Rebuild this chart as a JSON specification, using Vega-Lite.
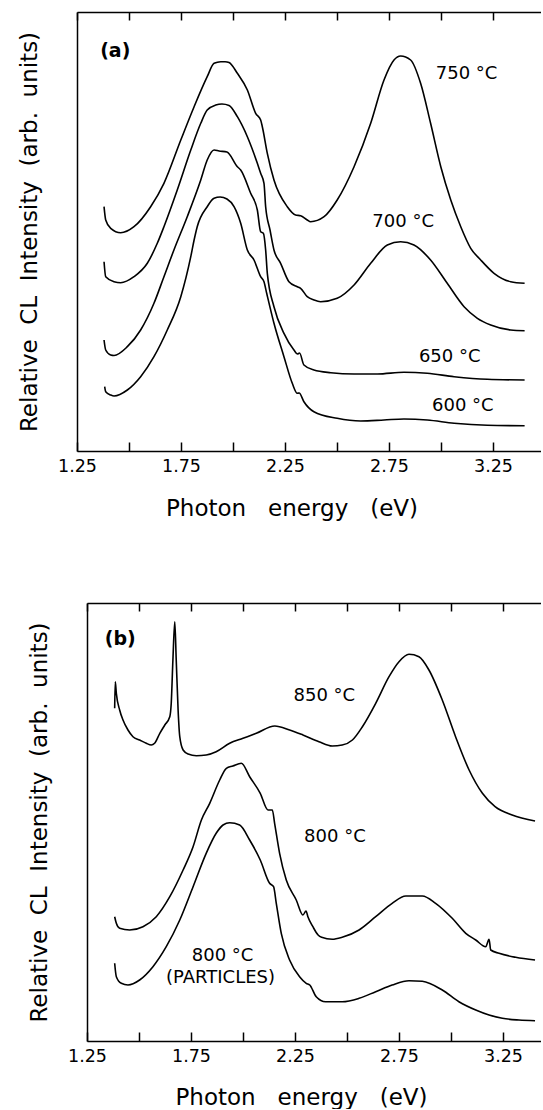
{
  "$schema": "https://vega.github.io/schema/vega-lite/v6.json",
  "padding": {"left": 18, "top": 11, "right": 0, "bottom": 0},
  "background": "white",
  "columns": 1,
  "spacing": {"row": 82, "column": 0},
  "config": {
    "font": "DejaVu Sans",
    "view": {"stroke": null},
    "axis": {"domainColor": "black", "domainWidth": 1.5, "tickColor": "black", "tickWidth": 1.5, "labelColor": "black", "titleColor": "black", "labelFont": "DejaVu Sans", "titleFont": "DejaVu Sans", "labelFontSize": 17.5, "titleFontSize": 23, "titleFontWeight": "normal", "grid": false},
    "text": {"font": "DejaVu Sans", "color": "black"}
  },
  "datasets": {
    "a": [
      {"s":"750","E":1.380,"I":244.3},{"s":"750","E":1.388,"I":231},{"s":"750","E":1.412,"I":222.7},{"s":"750","E":1.460,"I":218.3},{"s":"750","E":1.524,"I":224.3},{"s":"750","E":1.604,"I":244.3},{"s":"750","E":1.668,"I":267.7},{"s":"750","E":1.749,"I":311},{"s":"750","E":1.813,"I":344.3},{"s":"750","E":1.876,"I":374.3},{"s":"750","E":1.909,"I":387.7},{"s":"750","E":1.941,"I":389.3},{"s":"750","E":1.962,"I":389.3},{"s":"750","E":1.981,"I":388.5},{"s":"750","E":2.021,"I":377.7},{"s":"750","E":2.069,"I":361},{"s":"750","E":2.109,"I":337.7},{"s":"750","E":2.133,"I":331},{"s":"750","E":2.141,"I":324.3},{"s":"750","E":2.165,"I":297.7},{"s":"750","E":2.197,"I":271},{"s":"750","E":2.261,"I":244.3},{"s":"750","E":2.301,"I":236},{"s":"750","E":2.325,"I":235.3},{"s":"750","E":2.357,"I":231},{"s":"750","E":2.373,"I":229.3},{"s":"750","E":2.438,"I":234.3},{"s":"750","E":2.501,"I":251},{"s":"750","E":2.582,"I":284.3},{"s":"750","E":2.662,"I":327.7},{"s":"750","E":2.726,"I":371},{"s":"750","E":2.774,"I":391},{"s":"750","E":2.806,"I":395},{"s":"750","E":2.854,"I":391},{"s":"750","E":2.902,"I":367.7},{"s":"750","E":2.950,"I":327.7},{"s":"750","E":2.999,"I":284.3},{"s":"750","E":3.047,"I":251},{"s":"750","E":3.095,"I":224.3},{"s":"750","E":3.143,"I":202.7},{"s":"750","E":3.191,"I":191},{"s":"750","E":3.255,"I":177.7},{"s":"750","E":3.335,"I":169.3},{"s":"750","E":3.402,"I":167.7},
      {"s":"700","E":1.380,"I":189.3},{"s":"700","E":1.388,"I":174.3},{"s":"700","E":1.428,"I":169.3},{"s":"700","E":1.460,"I":168.3},{"s":"700","E":1.524,"I":174.3},{"s":"700","E":1.588,"I":187.7},{"s":"700","E":1.636,"I":207.7},{"s":"700","E":1.668,"I":224.3},{"s":"700","E":1.732,"I":261},{"s":"700","E":1.797,"I":301},{"s":"700","E":1.845,"I":327.7},{"s":"700","E":1.876,"I":341},{"s":"700","E":1.917,"I":346},{"s":"700","E":1.947,"I":347},{"s":"700","E":1.981,"I":345.5},{"s":"700","E":2.021,"I":334.3},{"s":"700","E":2.069,"I":314.3},{"s":"700","E":2.117,"I":287.7},{"s":"700","E":2.133,"I":277.7},{"s":"700","E":2.149,"I":267.7},{"s":"700","E":2.157,"I":244.3},{"s":"700","E":2.178,"I":221},{"s":"700","E":2.197,"I":201},{"s":"700","E":2.229,"I":187.7},{"s":"700","E":2.269,"I":169.3},{"s":"700","E":2.309,"I":164.3},{"s":"700","E":2.325,"I":162.7},{"s":"700","E":2.357,"I":154.3},{"s":"700","E":2.389,"I":151},{"s":"700","E":2.421,"I":149.3},{"s":"700","E":2.501,"I":152.7},{"s":"700","E":2.582,"I":166},{"s":"700","E":2.662,"I":187.7},{"s":"700","E":2.742,"I":206},{"s":"700","E":2.806,"I":209.3},{"s":"700","E":2.870,"I":206},{"s":"700","E":2.950,"I":191},{"s":"700","E":3.030,"I":167.7},{"s":"700","E":3.111,"I":144.3},{"s":"700","E":3.175,"I":132.7},{"s":"700","E":3.239,"I":126},{"s":"700","E":3.335,"I":121},{"s":"700","E":3.402,"I":120.3},
      {"s":"650","E":1.380,"I":111},{"s":"650","E":1.388,"I":101},{"s":"650","E":1.412,"I":96},{"s":"650","E":1.428,"I":95.5},{"s":"650","E":1.492,"I":104.3},{"s":"650","E":1.556,"I":121},{"s":"650","E":1.620,"I":147.7},{"s":"650","E":1.668,"I":174.3},{"s":"650","E":1.716,"I":201},{"s":"650","E":1.780,"I":234.3},{"s":"650","E":1.845,"I":271},{"s":"650","E":1.876,"I":291},{"s":"650","E":1.909,"I":301},{"s":"650","E":1.933,"I":300},{"s":"650","E":1.971,"I":299},{"s":"650","E":2.021,"I":284.3},{"s":"650","E":2.037,"I":281},{"s":"650","E":2.085,"I":257.7},{"s":"650","E":2.117,"I":241},{"s":"650","E":2.133,"I":219.3},{"s":"650","E":2.146,"I":217.7},{"s":"650","E":2.157,"I":201},{"s":"650","E":2.165,"I":177.7},{"s":"650","E":2.197,"I":144.3},{"s":"650","E":2.245,"I":117.7},{"s":"650","E":2.293,"I":101},{"s":"650","E":2.310,"I":97},{"s":"650","E":2.320,"I":98},{"s":"650","E":2.341,"I":86},{"s":"650","E":2.389,"I":81},{"s":"650","E":2.470,"I":78.3},{"s":"650","E":2.582,"I":77},{"s":"650","E":2.694,"I":77},{"s":"650","E":2.822,"I":78.7},{"s":"650","E":2.934,"I":77.7},{"s":"650","E":3.063,"I":74.3},{"s":"650","E":3.223,"I":71.7},{"s":"650","E":3.402,"I":71},
      {"s":"600","E":1.383,"I":64.3},{"s":"600","E":1.388,"I":59.3},{"s":"600","E":1.412,"I":56},{"s":"600","E":1.428,"I":55},{"s":"600","E":1.492,"I":61},{"s":"600","E":1.556,"I":74.3},{"s":"600","E":1.620,"I":94.3},{"s":"600","E":1.684,"I":121},{"s":"600","E":1.749,"I":154.3},{"s":"600","E":1.797,"I":194.3},{"s":"600","E":1.813,"I":211},{"s":"600","E":1.828,"I":224.3},{"s":"600","E":1.876,"I":244.3},{"s":"600","E":1.909,"I":252.7},{"s":"600","E":1.938,"I":254},{"s":"600","E":1.971,"I":252},{"s":"600","E":2.005,"I":244.3},{"s":"600","E":2.037,"I":227.7},{"s":"600","E":2.069,"I":201},{"s":"600","E":2.101,"I":191},{"s":"600","E":2.133,"I":174.3},{"s":"600","E":2.149,"I":169.3},{"s":"600","E":2.162,"I":157.7},{"s":"600","E":2.197,"I":127.7},{"s":"600","E":2.245,"I":94.3},{"s":"600","E":2.285,"I":67.7},{"s":"600","E":2.309,"I":57.7},{"s":"600","E":2.318,"I":58},{"s":"600","E":2.341,"I":49.3},{"s":"600","E":2.389,"I":39.3},{"s":"600","E":2.501,"I":32.7},{"s":"600","E":2.614,"I":30},{"s":"600","E":2.726,"I":31},{"s":"600","E":2.822,"I":32},{"s":"600","E":2.934,"I":31},{"s":"600","E":3.063,"I":27.7},{"s":"600","E":3.223,"I":25.7},{"s":"600","E":3.402,"I":25.3}
    ],
    "b": [
      {"s":"850","E":1.383,"I":332.7},{"s":"850","E":1.386,"I":359.3},{"s":"850","E":1.391,"I":347.7},{"s":"850","E":1.407,"I":331},{"s":"850","E":1.423,"I":321},{"s":"850","E":1.447,"I":311},{"s":"850","E":1.471,"I":304.3},{"s":"850","E":1.503,"I":301},{"s":"850","E":1.535,"I":297.7},{"s":"850","E":1.559,"I":296},{"s":"850","E":1.575,"I":297.7},{"s":"850","E":1.600,"I":307.7},{"s":"850","E":1.624,"I":316},{"s":"850","E":1.648,"I":324.3},{"s":"850","E":1.655,"I":337.7},{"s":"850","E":1.663,"I":381},{"s":"850","E":1.672,"I":419.3},{"s":"850","E":1.679,"I":381},{"s":"850","E":1.688,"I":331},{"s":"850","E":1.696,"I":304.3},{"s":"850","E":1.712,"I":291},{"s":"850","E":1.736,"I":287},{"s":"850","E":1.776,"I":285.3},{"s":"850","E":1.823,"I":286},{"s":"850","E":1.871,"I":289.3},{"s":"850","E":1.936,"I":297.7},{"s":"850","E":2.000,"I":302.7},{"s":"850","E":2.064,"I":307.7},{"s":"850","E":2.153,"I":315},{"s":"850","E":2.224,"I":311},{"s":"850","E":2.288,"I":306},{"s":"850","E":2.365,"I":299.3},{"s":"850","E":2.429,"I":295},{"s":"850","E":2.477,"I":296},{"s":"850","E":2.526,"I":301},{"s":"850","E":2.574,"I":314.3},{"s":"850","E":2.638,"I":337.7},{"s":"850","E":2.702,"I":364.3},{"s":"850","E":2.750,"I":379.3},{"s":"850","E":2.798,"I":386.7},{"s":"850","E":2.846,"I":384.3},{"s":"850","E":2.894,"I":371},{"s":"850","E":2.958,"I":341},{"s":"850","E":3.022,"I":304.3},{"s":"850","E":3.087,"I":271},{"s":"850","E":3.151,"I":247.7},{"s":"850","E":3.212,"I":234.3},{"s":"850","E":3.294,"I":226},{"s":"850","E":3.404,"I":220},
      {"s":"800","E":1.383,"I":124.3},{"s":"800","E":1.391,"I":117.7},{"s":"800","E":1.407,"I":112.7},{"s":"800","E":1.455,"I":111},{"s":"800","E":1.519,"I":114.3},{"s":"800","E":1.583,"I":124.3},{"s":"800","E":1.648,"I":144.3},{"s":"800","E":1.712,"I":171},{"s":"800","E":1.760,"I":194.3},{"s":"800","E":1.800,"I":221},{"s":"800","E":1.840,"I":237.7},{"s":"800","E":1.888,"I":261},{"s":"800","E":1.920,"I":272.7},{"s":"800","E":1.951,"I":275},{"s":"800","E":1.992,"I":277.7},{"s":"800","E":2.032,"I":264.3},{"s":"800","E":2.083,"I":247.7},{"s":"800","E":2.120,"I":231},{"s":"800","E":2.141,"I":231},{"s":"800","E":2.152,"I":217.7},{"s":"800","E":2.176,"I":187.7},{"s":"800","E":2.208,"I":161},{"s":"800","E":2.256,"I":141},{"s":"800","E":2.288,"I":126},{"s":"800","E":2.303,"I":130},{"s":"800","E":2.312,"I":124.3},{"s":"800","E":2.336,"I":114.3},{"s":"800","E":2.361,"I":106},{"s":"800","E":2.378,"I":103.7},{"s":"800","E":2.429,"I":101.7},{"s":"800","E":2.477,"I":103.7},{"s":"800","E":2.558,"I":111},{"s":"800","E":2.638,"I":124.3},{"s":"800","E":2.717,"I":137.7},{"s":"800","E":2.783,"I":145},{"s":"800","E":2.862,"I":145},{"s":"800","E":2.926,"I":137.7},{"s":"800","E":3.006,"I":122.7},{"s":"800","E":3.071,"I":107.7},{"s":"800","E":3.119,"I":101},{"s":"800","E":3.167,"I":94.3},{"s":"800","E":3.183,"I":101.7},{"s":"800","E":3.191,"I":91},{"s":"800","E":3.231,"I":87.7},{"s":"800","E":3.311,"I":83.7},{"s":"800","E":3.404,"I":81},
      {"s":"800p","E":1.383,"I":77.7},{"s":"800p","E":1.391,"I":64.3},{"s":"800p","E":1.415,"I":57.7},{"s":"800p","E":1.447,"I":56},{"s":"800p","E":1.503,"I":61},{"s":"800p","E":1.567,"I":74.3},{"s":"800p","E":1.631,"I":94.3},{"s":"800p","E":1.696,"I":121},{"s":"800p","E":1.760,"I":154.3},{"s":"800p","E":1.823,"I":187.7},{"s":"800p","E":1.871,"I":207.7},{"s":"800p","E":1.904,"I":216},{"s":"800p","E":1.936,"I":218.3},{"s":"800p","E":1.984,"I":216},{"s":"800p","E":2.032,"I":201},{"s":"800p","E":2.083,"I":181},{"s":"800p","E":2.128,"I":157.7},{"s":"800p","E":2.147,"I":154.3},{"s":"800p","E":2.160,"I":137.7},{"s":"800p","E":2.184,"I":107.7},{"s":"800p","E":2.224,"I":81},{"s":"800p","E":2.272,"I":64.3},{"s":"800p","E":2.304,"I":57.7},{"s":"800p","E":2.321,"I":56},{"s":"800p","E":2.352,"I":44.3},{"s":"800p","E":2.397,"I":39.3},{"s":"800p","E":2.477,"I":39.3},{"s":"800p","E":2.558,"I":42.7},{"s":"800p","E":2.638,"I":49.3},{"s":"800p","E":2.717,"I":56},{"s":"800p","E":2.798,"I":60.3},{"s":"800p","E":2.862,"I":59.7},{"s":"800p","E":2.958,"I":51},{"s":"800p","E":3.038,"I":39.3},{"s":"800p","E":3.119,"I":31},{"s":"800p","E":3.183,"I":26},{"s":"800p","E":3.247,"I":22.7},{"s":"800p","E":3.327,"I":21},{"s":"800p","E":3.404,"I":20.3}
    ],
    "la": [
      {"t":"750 °C","E":3.123,"I":377.5},{"t":"700 °C","E":2.818,"I":229},{"t":"650 °C","E":3.042,"I":94},{"t":"600 °C","E":3.105,"I":44.7}
    ],
    "lb": [
      {"t":"850 °C","E":2.391,"I":345},{"t":"800 °C","E":2.442,"I":204},{"t":"800 °C","E":1.902,"I":85},{"t":"(PARTICLES)","E":1.892,"I":63}
    ],
    "pa": [{"t":"(a)","E":1.434,"I":400.2}],
    "pb": [{"t":"(b)","E":1.410,"I":402.3}]
  },
  "concat": [
    {
      "width": 464,
      "height": 439,
      "resolve": {"axis": {"x": "independent"}},
      "layer": [
        {
          "data": {"name": "a"},
          "mark": {"type": "line", "color": "black", "strokeWidth": 1.6, "interpolate": "monotone"},
          "encoding": {
            "x": {"field": "E", "type": "quantitative", "scale": {"domain": [1.25, 3.4808], "nice": false, "zero": false},
                  "axis": {"orient": "bottom", "values": [1.25,1.5,1.75,2,2.25,2.5,2.75,3,3.25], "labelExpr": "(round(datum.value*100) % 50 == 25) ? format(datum.value, '.2f') : ''", "tickSize": -9, "labelPadding": 15.5, "labelFlush": false, "title": "Photon\u00a0\u00a0\u00a0energy\u00a0\u00a0\u00a0(eV)", "titleX": 214.5, "titleY": 64, "titleBaseline": "alphabetic", "titleAlign": "center", "titleAnchor": null}},
            "y": {"field": "I", "type": "quantitative", "scale": {"domain": [0, 439], "nice": false, "zero": false},
                  "axis": {"title": "Relative\u00a0\u00a0CL\u00a0\u00a0Intensity\u00a0\u00a0(arb.\u00a0\u00a0units)", "labels": false, "ticks": false, "titlePadding": 36}},
            "detail": {"field": "s"}
          }
        },
        {
          "data": {"name": "la"},
          "mark": {"type": "text", "fontSize": 18, "align": "center", "baseline": "middle", "color": "black"},
          "encoding": {
            "x": {"field": "E", "type": "quantitative", "scale": {"domain": [1.25, 3.4808], "nice": false, "zero": false}, "axis": null},
            "y": {"field": "I", "type": "quantitative", "scale": {"domain": [0, 439], "nice": false, "zero": false},
                  "axis": {"title": "Relative\u00a0\u00a0CL\u00a0\u00a0Intensity\u00a0\u00a0(arb.\u00a0\u00a0units)", "labels": false, "ticks": false, "titlePadding": 36}},
            "text": {"field": "t"}
          }
        },
        {
          "data": {"name": "pa"},
          "mark": {"type": "text", "fontSize": 19, "fontWeight": "bold", "align": "center", "baseline": "middle", "color": "black"},
          "encoding": {
            "x": {"field": "E", "type": "quantitative", "scale": {"domain": [1.25, 3.4808], "nice": false, "zero": false},
                  "axis": {"orient": "top", "values": [1.25,1.5,1.75,2,2.25,2.5,2.75,3,3.25], "labels": false, "tickSize": -8, "title": null}},
            "y": {"field": "I", "type": "quantitative", "scale": {"domain": [0, 439], "nice": false, "zero": false},
                  "axis": {"title": "Relative\u00a0\u00a0CL\u00a0\u00a0Intensity\u00a0\u00a0(arb.\u00a0\u00a0units)", "labels": false, "ticks": false, "titlePadding": 36}},
            "text": {"field": "t"}
          }
        }
      ]
    },
    {
      "width": 464,
      "height": 438,
      "resolve": {"axis": {"x": "independent"}},
      "layer": [
        {
          "data": {"name": "b"},
          "mark": {"type": "line", "color": "black", "strokeWidth": 1.6, "interpolate": "monotone"},
          "encoding": {
            "x": {"field": "E", "type": "quantitative", "scale": {"domain": [1.20192, 3.43269], "nice": false, "zero": false},
                  "axis": {"orient": "bottom", "values": [1.25,1.5,1.75,2,2.25,2.5,2.75,3,3.25], "labelExpr": "(round(datum.value*100) % 50 == 25) ? format(datum.value, '.2f') : ''", "tickSize": -9, "labelPadding": 15.5, "labelFlush": false, "domainDash": [0, 10, 2000, 0], "title": "Photon\u00a0\u00a0\u00a0energy\u00a0\u00a0\u00a0(eV)", "titleX": 224, "titleY": 63, "titleBaseline": "alphabetic", "titleAlign": "center", "titleAnchor": null}},
            "y": {"field": "I", "type": "quantitative", "scale": {"domain": [0, 438], "nice": false, "zero": false},
                  "axis": {"title": "Relative\u00a0\u00a0CL\u00a0\u00a0Intensity\u00a0\u00a0(arb.\u00a0\u00a0units)", "labels": false, "ticks": false, "offset": -10, "titlePadding": 36}},
            "detail": {"field": "s"}
          }
        },
        {
          "data": {"name": "lb"},
          "mark": {"type": "text", "fontSize": 18, "align": "center", "baseline": "middle", "color": "black"},
          "encoding": {
            "x": {"field": "E", "type": "quantitative", "scale": {"domain": [1.20192, 3.43269], "nice": false, "zero": false}, "axis": null},
            "y": {"field": "I", "type": "quantitative", "scale": {"domain": [0, 438], "nice": false, "zero": false},
                  "axis": {"title": "Relative\u00a0\u00a0CL\u00a0\u00a0Intensity\u00a0\u00a0(arb.\u00a0\u00a0units)", "labels": false, "ticks": false, "offset": -10, "titlePadding": 36}},
            "text": {"field": "t"}
          }
        },
        {
          "data": {"name": "pb"},
          "mark": {"type": "text", "fontSize": 19, "fontWeight": "bold", "align": "center", "baseline": "middle", "color": "black"},
          "encoding": {
            "x": {"field": "E", "type": "quantitative", "scale": {"domain": [1.20192, 3.43269], "nice": false, "zero": false},
                  "axis": {"orient": "top", "values": [1.25,1.5,1.75,2,2.25,2.5,2.75,3,3.25], "labels": false, "tickSize": -8, "domainDash": [0, 10, 2000, 0], "title": null}},
            "y": {"field": "I", "type": "quantitative", "scale": {"domain": [0, 438], "nice": false, "zero": false},
                  "axis": {"title": "Relative\u00a0\u00a0CL\u00a0\u00a0Intensity\u00a0\u00a0(arb.\u00a0\u00a0units)", "labels": false, "ticks": false, "offset": -10, "titlePadding": 36}},
            "text": {"field": "t"}
          }
        }
      ]
    }
  ]
}
